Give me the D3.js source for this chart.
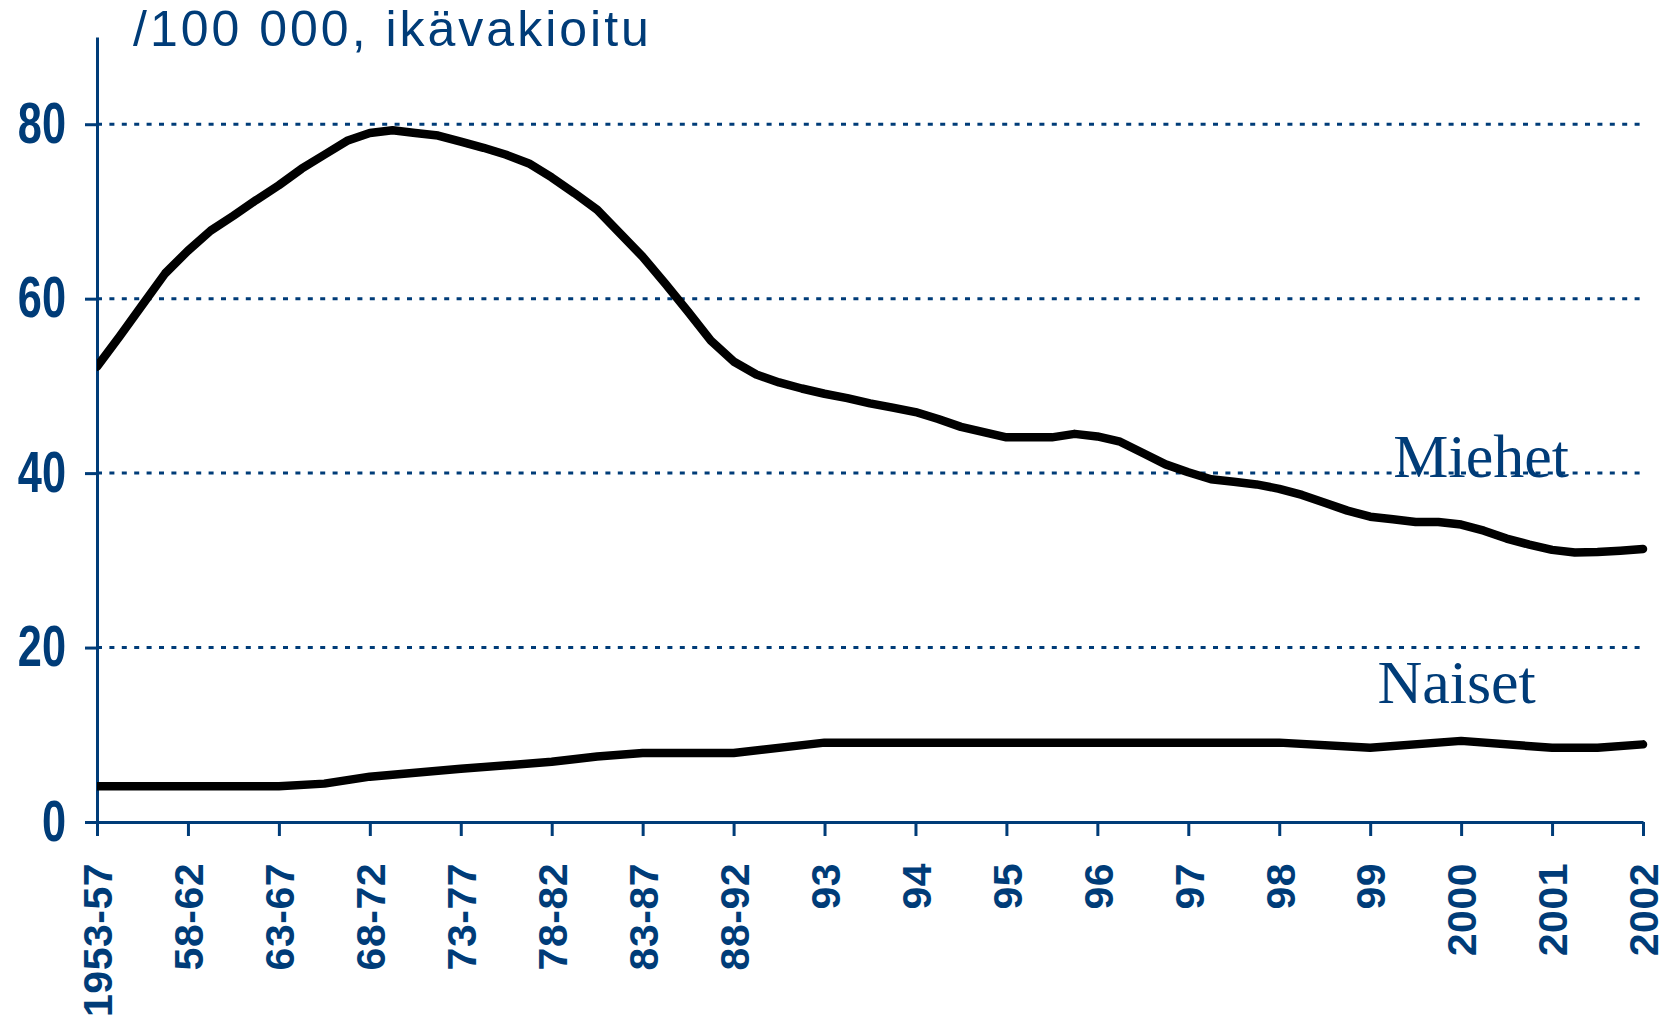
<!DOCTYPE html>
<html>
<head>
<meta charset="utf-8">
<script src="https://cdn.jsdelivr.net/npm/d3@7"></script>
<style>
body { margin: 0; background: #fff; }
</style>
</head>
<body>
<div id="chart"></div>
<script>
// period labels on the x axis
var periods = ["1953-57", "58-62", "63-67", "68-72", "73-77", "78-82", "83-87", "88-92",
  "93", "94", "95", "96", "97", "98", "99", "2000", "2001", "2002"];
var yTicks = [0, 20, 40, 60, 80];

// Miehet, read every quarter of a period step
var miehet = [52.2, 55.7, 59.3, 62.9, 65.5, 67.8, 69.5, 71.3, 73.0, 74.9, 76.5, 78.1,
  79.0, 79.3, 79.0, 78.7, 78.0, 77.3, 76.5, 75.5, 73.9, 72.1, 70.2, 67.5,
  64.8, 61.7, 58.5, 55.2, 52.8, 51.3, 50.4, 49.7, 49.1, 48.6, 48.0, 47.5,
  47.0, 46.2, 45.3, 44.7, 44.1, 44.1, 44.1, 44.5, 44.2, 43.6, 42.3, 41.0,
  40.1, 39.3, 39.0, 38.7, 38.2, 37.5, 36.6, 35.7, 35.0, 34.7, 34.4, 34.4,
  34.1, 33.4, 32.5, 31.8, 31.2, 30.9, 30.95, 31.1, 31.3];

// Naiset, positions in period steps and values
var naisetAt = [0, 1, 2, 2.5, 3, 4, 5, 5.5, 6, 7, 8, 9, 10, 11, 12, 13, 14, 15, 16, 16.5, 17];
var naiset = [4.1, 4.1, 4.1, 4.4, 5.2, 6.1, 6.9, 7.5, 7.9, 7.9, 9.1, 9.1, 9.1, 9.1, 9.1, 9.1, 8.5, 9.3, 8.5, 8.5, 8.9];

var blue = "#003c78";
var margin = {top: 37, right: 32, bottom: 197, left: 97},
    width = 1675 - margin.left - margin.right,
    height = 1019 - margin.top - margin.bottom;

var svg = d3.select("#chart").append("svg")
    .attr("width", 1675)
    .attr("height", 1019)
    .style("display", "block");

svg.append("text")
    .attr("x", 133)
    .attr("y", 46)
    .attr("fill", blue)
    .style("font-family", "'Liberation Sans', Arial, sans-serif")
    .style("font-size", "50px")
    .style("letter-spacing", "3px")
    .text("/100 000, ikävakioitu");

var g = svg.append("g")
    .attr("transform", "translate(" + margin.left + "," + margin.top + ")");

var x = d3.scaleLinear().domain([0, periods.length - 1]).range([0, width]);
var y = d3.scaleLinear().domain([0, 90]).range([height, 0]);

// dotted grid
g.selectAll(".grid")
    .data(yTicks.filter(function (d) { return d > 0; }))
    .enter().append("line")
    .attr("x1", 0)
    .attr("x2", width)
    .attr("y1", function (d) { return y(d); })
    .attr("y2", function (d) { return y(d); })
    .attr("stroke", blue)
    .attr("stroke-width", 3)
    .attr("stroke-dasharray", "5,7.4");

var xAxis = g.append("g")
    .attr("transform", "translate(0," + height + ")")
    .call(d3.axisBottom(x)
        .tickValues(d3.range(periods.length))
        .tickFormat(function (i) { return periods[i]; })
        .tickSize(14)
        .tickSizeOuter(0));
xAxis.selectAll("text")
    .attr("transform", "rotate(-90)")
    .attr("text-anchor", "end")
    .attr("x", -41)
    .attr("y", 0)
    .attr("dy", "0.36em")
    .style("font-family", "'Liberation Sans', Arial, sans-serif")
    .style("font-weight", "bold")
    .style("font-size", "41px")
    .style("letter-spacing", "0.5px");

// narrow bold numbers on the y axis: squeeze Liberation Sans horizontally
var squeeze = 0.76;
var yAxis = g.append("g")
    .call(d3.axisLeft(y)
        .tickValues(yTicks)
        .tickSize(12)
        .tickPadding(19)
        .tickSizeOuter(0));
yAxis.selectAll("text")
    .attr("transform", "scale(" + squeeze + ",1)")
    .attr("x", -31 / squeeze)
    .style("font-family", "'Liberation Sans', Arial, sans-serif")
    .style("font-weight", "bold")
    .style("font-size", "57px");

svg.selectAll(".domain, .tick line")
    .attr("stroke", blue)
    .attr("stroke-width", 3);
svg.selectAll(".tick text").attr("fill", blue);

g.append("clipPath").attr("id", "plot")
  .append("rect")
    .attr("x", 0).attr("y", -20)
    .attr("width", width + 20).attr("height", height + 40);

var lineM = d3.line()
    .x(function (d, i) { return x(i / 4); })
    .y(function (d) { return y(d); });
var lineN = d3.line()
    .x(function (d, i) { return x(naisetAt[i]); })
    .y(function (d) { return y(d); });

var lines = g.append("g").attr("clip-path", "url(#plot)");
lines.append("path")
    .datum(miehet)
    .attr("d", lineM);
lines.append("path")
    .datum(naiset)
    .attr("d", lineN);
lines.selectAll("path")
    .attr("fill", "none")
    .attr("stroke", "#000")
    .attr("stroke-width", 8.5)
    .attr("stroke-linejoin", "round")
    .attr("stroke-linecap", "round");

var names = [{name: "Miehet", at: 15.22, v: 39.6}, {name: "Naiset", at: 14.95, v: 13.7}];
g.selectAll(".name")
    .data(names)
    .enter().append("text")
    .attr("x", function (d) { return x(d.at); })
    .attr("y", function (d) { return y(d.v); })
    .attr("text-anchor", "middle")
    .attr("fill", blue)
    .style("font-family", "'Liberation Serif', 'Times New Roman', serif")
    .style("font-size", "62px")
    .text(function (d) { return d.name; });
</script>
</body>
</html>
